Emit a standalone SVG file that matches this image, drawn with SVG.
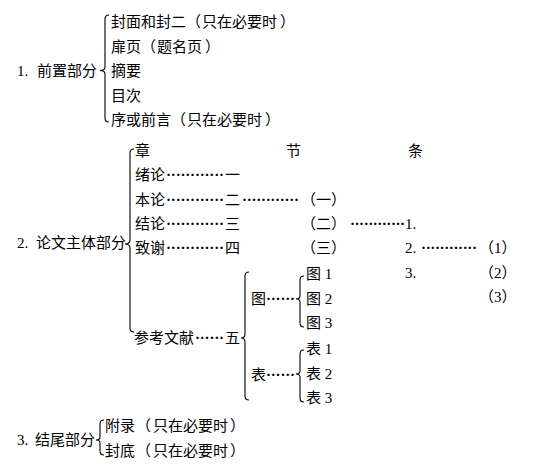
<svg xmlns="http://www.w3.org/2000/svg" width="545" height="469" viewBox="0 0 545 469">
<style>
text{font-family:"Liberation Serif","Noto Sans CJK SC",serif;font-size:15px;fill:#000}
.d{font-family:"Liberation Serif",serif;font-weight:bold}
.b{fill:none;stroke:#000;stroke-width:1.1}
</style>
<rect width="545" height="469" fill="#fff"/>
<g id="connectors">
<path class="b" d="M109,15 Q105,15 105,19 L105,67 Q105,70.5 100,70.5 Q105,70.5 105,74 L105,118 Q105,122 109,122"/>
<path class="b" d="M134,149 Q130,149 130,153 L130,240 Q130,244 125,244 Q130,244 130,248 L130,328 Q130,332 134,332"/>
<path class="b" d="M249,272 Q245,272 245,276 L245,334 Q245,338 241,338 Q245,338 245,342 L245,396 Q245,400 249,400"/>
<path class="b" d="M304,276 Q300,276 300,280 L300,296 Q300,299 296,299 Q300,299 300,302 L300,323 Q300,327 304,327"/>
<path class="b" d="M304,350 Q300,350 300,354 L300,371 Q300,374 296,374 Q300,374 300,377 L300,398 Q300,402 304,402"/>
<path class="b" d="M104,420 Q100,420 100,424 L100,437 Q100,440 96,440 Q100,440 100,443 L100,451 Q100,455 104,455"/>
</g>
<g id="part1">
<text x="17" y="76">1.</text><text x="37" y="76">前置部分</text>
<text y="27"><tspan x="111">封面和封二</tspan><tspan x="186">（</tspan><tspan x="202">只在必要时</tspan><tspan x="280">）</tspan></text>
<text y="51.5"><tspan x="111">扉页</tspan><tspan x="141">（</tspan><tspan x="157">题名页</tspan><tspan x="205">）</tspan></text>
<text x="111" y="76">摘要</text>
<text x="111" y="100.5">目次</text>
<text y="125"><tspan x="111">序或前言</tspan><tspan x="171">（</tspan><tspan x="187">只在必要时</tspan><tspan x="265">）</tspan></text>
</g>
<g id="part2">
<text x="17" y="248">2.</text><text x="36" y="248">论文主体部分</text>
<text x="135" y="156">章</text>
<text x="286" y="156">节</text>
<text x="408" y="156">条</text>
<text x="135" y="180">绪论</text><text class="d" x="166" y="180" textLength="58" lengthAdjust="spacing">············</text><text x="225" y="180">一</text>
<text x="135" y="204.5">本论</text><text class="d" x="166" y="204.5" textLength="58" lengthAdjust="spacing">············</text><text x="225" y="204.5">二</text><text class="d" x="242" y="204.5" textLength="57" lengthAdjust="spacing">············</text><text x="301" y="204.5">（一）</text>
<text x="135" y="229">结论</text><text class="d" x="166" y="229" textLength="58" lengthAdjust="spacing">············</text><text x="225" y="229">三</text><text x="301" y="229">（二）</text><text class="d" x="350" y="229" textLength="55" lengthAdjust="spacing">············</text><text x="405" y="229">1.</text>
<text x="135" y="253">致谢</text><text class="d" x="166" y="253" textLength="58" lengthAdjust="spacing">············</text><text x="225" y="253">四</text><text x="301" y="253">（三）</text><text x="405" y="253">2.</text><text class="d" x="421" y="253" textLength="56" lengthAdjust="spacing">············</text><text x="479" y="253">（1）</text>
<text x="405" y="278">3.</text><text x="479" y="278">（2）</text>
<text x="479" y="302">（3）</text>
<text x="134" y="343">参考文献</text><text class="d" x="195" y="343" textLength="29" lengthAdjust="spacing">······</text><text x="225" y="343">五</text>
<text x="251" y="304">图</text><text class="d" x="266" y="304" textLength="29" lengthAdjust="spacing">······</text>
<text x="306" y="279">图 1</text><text x="306" y="304">图 2</text><text x="306" y="328">图 3</text>
<text x="251" y="380">表</text><text class="d" x="266" y="380" textLength="29" lengthAdjust="spacing">······</text>
<text x="306" y="354">表 1</text><text x="306" y="379">表 2</text><text x="306" y="403">表 3</text>
</g>
<g id="part3">
<text x="17" y="445">3.</text><text x="35" y="445">结尾部分</text>
<text y="431"><tspan x="105">附录</tspan><tspan x="136">（</tspan><tspan x="153">只在必要时</tspan><tspan x="230">）</tspan></text>
<text y="456"><tspan x="105">封底</tspan><tspan x="136">（</tspan><tspan x="153">只在必要时</tspan><tspan x="230">）</tspan></text>
</g>
</svg>
